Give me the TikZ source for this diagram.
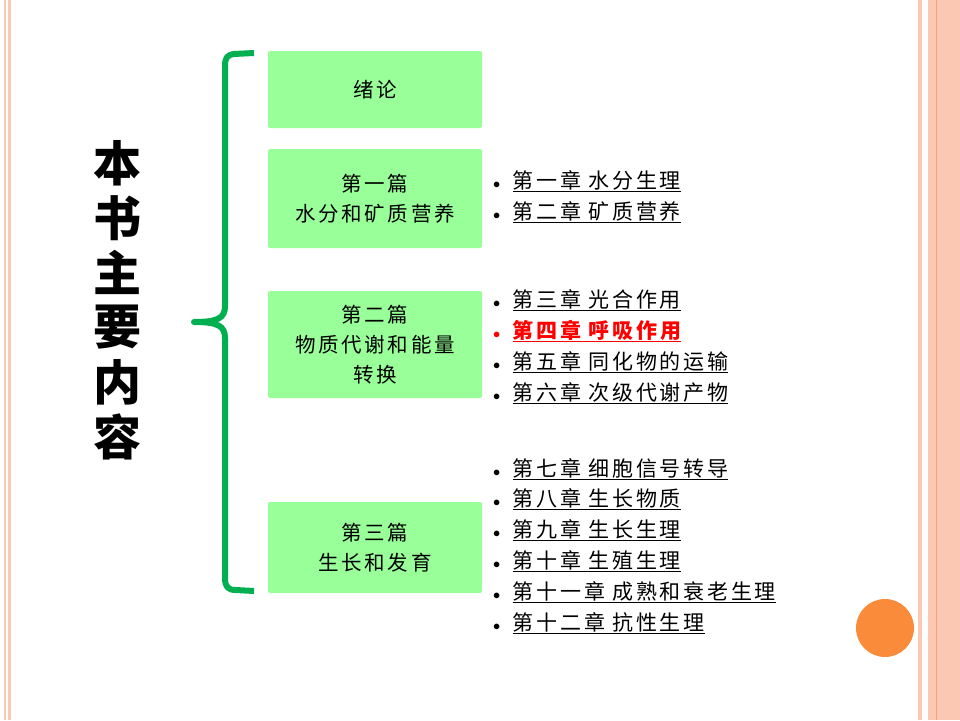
\documentclass[tikz,border=0pt]{standalone}
\usepackage{fontspec}
\setmainfont{Noto Sans CJK SC}
\newfontfamily\spacedfont[LetterSpace=13]{Noto Sans CJK SC}
\usepackage{tikz}
\usepackage{xcolor}
\definecolor{framepink}{HTML}{FBC8B4}
\definecolor{frameline}{HTML}{F2A27A}
\definecolor{partgreen}{HTML}{99FF99}
\definecolor{bracegreen}{HTML}{00B050}
\definecolor{dotorange}{HTML}{FA8B3A}
\newcommand{\chapitem}[1]{{\fontsize{15}{15}\selectfont$\bullet$}\hspace{12.5pt}\underline{#1}}

\begin{document}
\begin{tikzpicture}[x=1pt, y=-1pt,
        part/.style={fill=partgreen, rounded corners=2pt, minimum width=214pt,
            inner sep=0pt, align=center, font=\spacedfont\fontsize{20.5}{30}\selectfont},
        chap/.style={anchor=base west, inner sep=0pt, font=\spacedfont\fontsize{21}{21}\selectfont},
        titlechar/.style={inner sep=0pt, font=\bfseries\fontsize{48}{48}\selectfont}]
                        \useasboundingbox (0,0) rectangle (960,720);
                        % page frame
                        \fill[framepink] (4,0) rectangle (6,720);
                        \fill[framepink] (8,0) rectangle (11,720);
                        \fill[framepink] (918,0) rectangle (922,720);
                        \fill[framepink] (928,0) rectangle (960,720);
                        \draw[frameline, line width=1pt] (936.5,0) -- (936.5,720);
                        \node[circle, fill=dotorange, minimum size=58pt, inner sep=0pt] (dot) at (885,628) {};
                        % title
                        \foreach \ch [count=\i] in {本,书,主,要,内,容}
                            \node[titlechar] (title\i) at (117,{108.2+54.8*\i}) {\ch};
                        % brace
                        \draw[bracegreen, line width=6pt, line join=round]
                        (254,53) -- (234,54) .. controls (227,55) and (225,58) .. (225,66)
                        -- (225,306) .. controls (225,318) and (218,322) .. (194,322)
                        .. controls (218,322) and (225,326) .. (225,338)
                        -- (225,578) .. controls (225,587) and (228,590) .. (236,590) -- (254,591);
                        % parts
                        \node[part, minimum height=77pt] (intro) at (375,89.5) {绪论};
                        \node[part, minimum height=99pt] (part1) at (375,198.5) {第一篇\\水分和矿质营养};
                        \node[part, minimum height=107pt] (part2) at (375,344.5) {第二篇\\物质代谢和能量\\转换};
                        \node[part, minimum height=91pt] (part3) at (375,547.5) {第三篇\\生长和发育};
                        % chapters
                        \node[chap] (ch1) at (493,188) {\chapitem{第一章 水分生理}};
                        \node[chap] (ch2) at (493,219) {\chapitem{第二章 矿质营养}};
                        \node[chap] (ch3) at (493,307) {\chapitem{第三章 光合作用}};
                        \node[chap, text=red, font=\spacedfont\bfseries\fontsize{21}{21}\selectfont] (ch4) at (493,338) {\chapitem{第四章 呼吸作用}};
                        \node[chap] (ch5) at (493,369) {\chapitem{第五章 同化物的运输}};
                        \node[chap] (ch6) at (493,400) {\chapitem{第六章 次级代谢产物}};
                        \node[chap] (ch7) at (493,476) {\chapitem{第七章 细胞信号转导}};
                        \node[chap] (ch8) at (493,506) {\chapitem{第八章 生长物质}};
                        \node[chap] (ch9) at (493,537) {\chapitem{第九章 生长生理}};
                        \node[chap] (ch10) at (493,568) {\chapitem{第十章 生殖生理}};
                        \node[chap] (ch11) at (493,599) {\chapitem{第十一章 成熟和衰老生理}};
                        \node[chap] (ch12) at (493,630) {\chapitem{第十二章 抗性生理}};
                    \end{tikzpicture}
\end{document}
